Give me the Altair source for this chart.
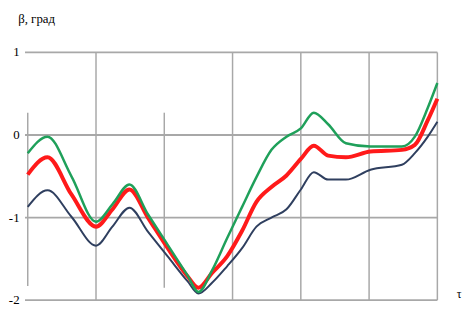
import altair as alt
import pandas as pd

# x positions (time units)
x_vals = [0, 0.29, 0.64, 1.0, 1.24, 1.49, 1.76, 2.05, 2.34, 2.5, 2.7, 2.92, 3.14,
          3.35, 3.57, 3.79, 4.0, 4.19, 4.4, 4.66, 5.02, 5.48, 5.67, 5.86, 6.0]
green_vals = [-0.22, -0.02, -0.50, -1.05, -0.84, -0.60, -0.96, -1.33, -1.70, -1.90,
              -1.64, -1.25, -0.87, -0.51, -0.18, -0.02, 0.08, 0.27, 0.13, -0.10,
              -0.14, -0.14, -0.02, 0.33, 0.63]
red_vals = [-0.48, -0.27, -0.72, -1.11, -0.90, -0.66, -1.00, -1.37, -1.71, -1.85,
            -1.67, -1.47, -1.16, -0.81, -0.63, -0.49, -0.29, -0.13, -0.25, -0.27,
            -0.20, -0.18, -0.12, 0.18, 0.44]
navy_vals = [-0.87, -0.67, -0.99, -1.34, -1.11, -0.88, -1.17, -1.47, -1.77, -1.92,
             -1.79, -1.59, -1.37, -1.11, -1.00, -0.90, -0.66, -0.45, -0.54, -0.54,
             -0.42, -0.36, -0.22, -0.02, 0.16]

y_ticks = [-2, -1, 0, 1]
y_tick_labels = ["-2", "-1", "0", "1"]
vgrid_x = [0, 1, 2, 3, 4, 5, 6]
vgrid_top = [0.27, 1, 0.27, 1, 1, 1, 1]
vgrid_bottom = [-1.83, -2, -1.85, -2, -2, -2, -2]
y_title = "β, град"
x_title = "τ"

GRID = "#a8a8a8"
FONT = "Liberation Serif"
xs = alt.Scale(domain=[0, 6], nice=False, zero=False)
ys = alt.Scale(domain=[-2, 1], nice=False, zero=False)

hgrid = pd.DataFrame({"gy": y_ticks, "gx1": [-0.04] * 4, "gx2": [6] * 4})
vgrid = pd.DataFrame({"x": vgrid_x, "top": vgrid_top, "bottom": vgrid_bottom})
ylab = pd.DataFrame({"y": y_ticks, "t": y_tick_labels, "x": [-0.12] * 4})
ttl_l = pd.DataFrame({"x": [-0.14], "y": [1.41], "t": [y_title]})
ttl_r = pd.DataFrame({"x": [6.32], "y": [-1.92], "t": [x_title]})

# horizontal grid lines as thin filled bands
h_bands = alt.Chart(hgrid).transform_calculate(
    ytop="datum.gy + 0.011", ybot="datum.gy - 0.011"
).mark_rect(color=GRID, opacity=1).encode(
    x=alt.X("gx1:Q", scale=xs, axis=None),
    x2="gx2:Q",
    y=alt.Y("ytop:Q", scale=ys, axis=None),
    y2="ybot:Q",
)

v_rules = alt.Chart(vgrid).mark_rule(color=GRID, strokeWidth=1.5).encode(
    x=alt.X("x:Q", scale=xs, axis=None),
    y=alt.Y("top:Q", scale=ys, axis=None),
    y2="bottom:Q",
)

y_labels = alt.Chart(ylab).mark_text(
    align="right", baseline="middle", font=FONT, fontSize=13, color="#000000"
).encode(
    x=alt.X("x:Q", scale=xs, axis=None),
    y=alt.Y("y:Q", scale=ys, axis=None),
    text="t:N",
)

ttl_left = alt.Chart(ttl_l).mark_text(
    align="left", baseline="middle", font=FONT, fontSize=13, color="#000000"
).encode(
    x=alt.X("x:Q", scale=xs, axis=None),
    y=alt.Y("y:Q", scale=ys, axis=None),
    text="t:N",
)
ttl_right = alt.Chart(ttl_r).mark_text(
    align="center", baseline="middle", font=FONT, fontSize=12, color="#000000"
).encode(
    x=alt.X("x:Q", scale=xs, axis=None),
    y=alt.Y("y:Q", scale=ys, axis=None),
    text="t:N",
)

def series(vals, color, width):
    df = pd.DataFrame({"x": x_vals, "y": vals})
    return alt.Chart(df).mark_line(color=color, strokeWidth=width,
                                  interpolate="monotone").encode(
        x=alt.X("x:Q", scale=xs, axis=None),
        y=alt.Y("y:Q", scale=ys, axis=None),
    )

chart = alt.layer(
    h_bands,
    v_rules,
    series(navy_vals, "#2f3f5f", 2),
    series(red_vals, "#ff1a1a", 4),
    series(green_vals, "#1fa05a", 2.5),
    y_labels,
    ttl_left,
    ttl_right,
).properties(
    width=415,
    height=251,
    autosize=alt.AutoSizeParams(type="none"),
    padding={"left": 20, "top": 43, "right": 28, "bottom": 10},
).configure_view(stroke=None)

chart.save("out.html", embed_options={"renderer": "svg", "actions": False})
